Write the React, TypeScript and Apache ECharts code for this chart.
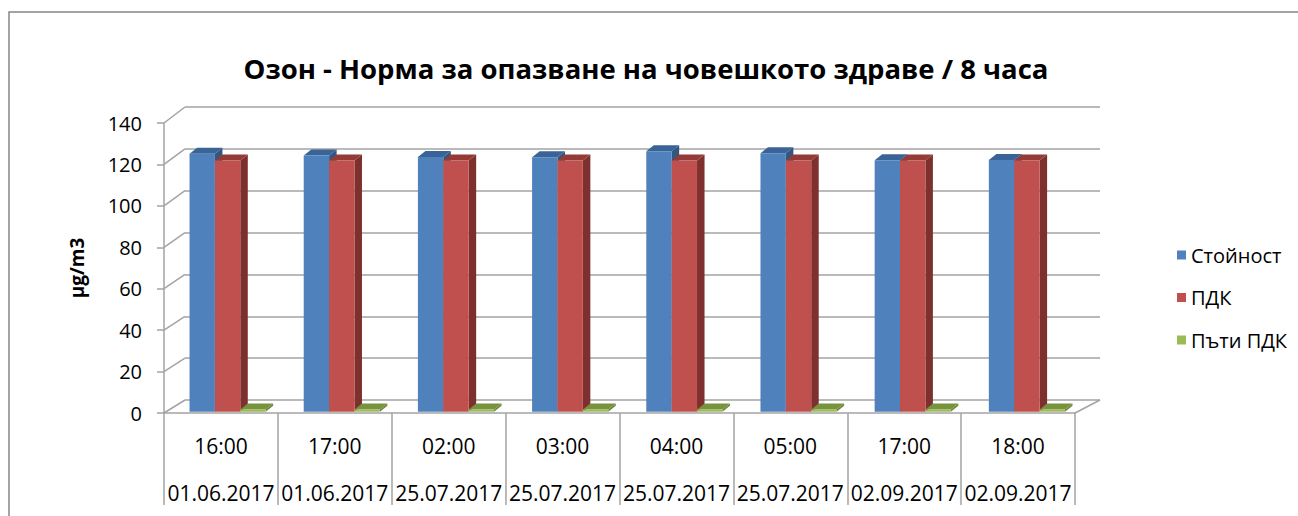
import React, { useEffect, useRef } from "react";
import * as echarts from "echarts";

const times = ["16:00", "17:00", "02:00", "03:00", "04:00", "05:00", "17:00", "18:00"];
const dates = ["01.06.2017", "01.06.2017", "25.07.2017", "25.07.2017", "25.07.2017", "25.07.2017", "02.09.2017", "02.09.2017"];
const seriesNames = ["Стойност", "ПДК", "Пъти ПДК"];
const valueSeries = [123.3, 122.4, 121.7, 121.6, 124.4, 123.5, 120.2, 120.3];
const pdkSeries = [120, 120, 120, 120, 120, 120, 120, 120];
const timesPdkSeries = [1.03, 1.02, 1.01, 1.01, 1.04, 1.03, 1.0, 1.0];
const yTicks = [0, 20, 40, 60, 80, 100, 120, 140];
const titleText = "Озон - Норма за опазване на човешкото здраве / 8 часа";
const yName = "µg/m3";

const FONT = "'Open Sans', 'Noto Sans', sans-serif";
const GRID_LINE = "#a3a3a3";
const DX = 7.5;
const DY = -6;

const palettes = [
  { front: "#4F81BD", side: "#34567f", top: "#3A6397" },
  { front: "#C0504D", side: "#7D302E", top: "#943A37" },
  { front: "#9BBB59", side: "#6d853c", top: "#77933C" },
];

function barRenderer(idx: number) {
  const p = palettes[idx];
  return (params: any, api: any) => {
    const cat = api.value(0);
    const v = api.value(1);
    const base = api.coord([cat, 0]);
    const top = api.coord([cat, v]);
    const band = api.size([1, 0])[0];
    const w = band / 4.5;
    const x0 = base[0] - 1.5 * w + idx * w;
    const x1 = x0 + w;
    const yb = base[1];
    const yt = top[1];
    return {
      type: "group",
      children: [
        {
          type: "polygon",
          shape: { points: [[x1, yb], [x1 + DX, yb + DY], [x1 + DX, yt + DY], [x1, yt]] },
          style: { fill: p.side },
        },
        {
          type: "polygon",
          shape: { points: [[x0, yt], [x1, yt], [x1 + DX, yt + DY], [x0 + DX, yt + DY]] },
          style: { fill: p.top },
        },
        {
          type: "rect",
          shape: { x: x0, y: yt, width: w, height: Math.max(yb - yt, 0.5) },
          style: { fill: p.front },
        },
      ],
    };
  };
}

export default function App() {
  const ref = useRef<HTMLDivElement>(null);
  useEffect(() => {
    document.body.style.margin = "0";
    if (!ref.current) return;
    const chart = echarts.init(ref.current, undefined, { renderer: "svg" });
    const cats = times.map((t, i) => t + "\n" + dates[i]);
    const allSeries = [valueSeries, pdkSeries, timesPdkSeries];

    chart.setOption({
      animation: false,
      backgroundColor: "#ffffff",
      grid: [
        { left: 164, right: 223, top: 123, bottom: 103 },
        { left: 170.5, right: 214, top: 118.7, bottom: 104.3 },
        { left: 185, right: 198, top: 107, bottom: 116 },
      ],
      legend: {
        orient: "vertical",
        left: 1172,
        top: 240,
        itemWidth: 9,
        itemHeight: 9,
        itemGap: 22.5,
        icon: "rect",
        data: seriesNames,
        selectedMode: false,
        textStyle: { fontFamily: FONT, fontSize: 20, color: "#000", lineHeight: 20 },
      },
      xAxis: [
        {
          gridIndex: 0,
          type: "category",
          data: cats,
          axisLine: { show: true, lineStyle: { color: GRID_LINE, width: 1.5 } },
          axisTick: { show: true, interval: 0, length: 92, lineStyle: { color: GRID_LINE, width: 1.5 } },
          axisLabel: {
            interval: 0,
            margin: 9,
            hideOverlap: false,
            formatter: (val: string) => {
              const [t, d] = val.split("\n");
              return "{t|" + t + "}\n{d|" + d + "}";
            },
            rich: {
              t: { fontFamily: FONT, fontSize: 21, lineHeight: 47, color: "#000" },
              d: { fontFamily: FONT, fontSize: 21, lineHeight: 47, color: "#000" },
            },
          },
          splitLine: { show: false },
        },
        { gridIndex: 1, type: "category", data: cats, show: false },
        { gridIndex: 2, type: "category", data: cats, show: false },
      ],
      yAxis: [
        {
          gridIndex: 0,
          type: "value",
          min: 0,
          max: 140,
          interval: 20,
          name: yName,
          nameLocation: "middle",
          nameRotate: 90,
          nameGap: 78,
          nameTextStyle: { fontFamily: FONT, fontSize: 19, fontWeight: "bold", color: "#000" },
          axisLine: { show: true, lineStyle: { color: GRID_LINE, width: 1.5 } },
          axisTick: { show: true, length: 7, lineStyle: { color: GRID_LINE, width: 1.5 } },
          axisLabel: { margin: 22, fontFamily: FONT, fontSize: 20, color: "#000" },
          splitLine: { show: false },
        },
        { gridIndex: 1, type: "value", min: 0, max: 140, interval: 20, show: false, splitLine: { show: false } },
        {
          gridIndex: 2,
          type: "value",
          min: 0,
          max: 140,
          interval: 20,
          axisLine: { show: false },
          axisTick: { show: false },
          axisLabel: { show: false },
          splitLine: { show: true, lineStyle: { color: GRID_LINE, width: 1.5 } },
        },
      ],
      series: seriesNames.map((name, idx) => ({
        name,
        type: "custom",
        xAxisIndex: 1,
        yAxisIndex: 1,
        itemStyle: { color: palettes[idx].front },
        renderItem: barRenderer(idx),
        encode: { x: 0, y: 1 },
        data: allSeries[idx].map((v, i) => [i, v]),
        z: 3,
      })),
    });

    // side wall diagonals and floor edge, computed through the axes' scales
    const n = cats.length;
    const fc0 = chart.convertToPixel({ xAxisIndex: 0 } as any, 0) as number;
    const fc1 = chart.convertToPixel({ xAxisIndex: 0 } as any, 1) as number;
    const fBand = fc1 - fc0;
    const fLeft = fc0 - fBand / 2;
    const fRight = (chart.convertToPixel({ xAxisIndex: 0 } as any, n - 1) as number) + fBand / 2;
    const bc0 = chart.convertToPixel({ xAxisIndex: 2 } as any, 0) as number;
    const bc1 = chart.convertToPixel({ xAxisIndex: 2 } as any, 1) as number;
    const bBand = bc1 - bc0;
    const bLeft = bc0 - bBand / 2;
    const bRight = (chart.convertToPixel({ xAxisIndex: 2 } as any, n - 1) as number) + bBand / 2;

    const lineStyle = { stroke: GRID_LINE, lineWidth: 1.5 };
    const graphics: any[] = [
      {
        type: "rect",
        z: -10,
        shape: { x: 9, y: 12, width: 1320, height: 540 },
        style: { fill: "none", stroke: "#868686", lineWidth: 1.5 },
        silent: true,
      },
      {
        type: "text",
        x: 646,
        y: 68,
        style: {
          text: titleText,
          textAlign: "center",
          textVerticalAlign: "middle",
          fontFamily: FONT,
          fontSize: 27.5,
          fontWeight: "bold",
          fill: "#000",
        },
      },
    ];
    yTicks.forEach((v) => {
      const fy = chart.convertToPixel({ yAxisIndex: 0 } as any, v) as number;
      const by = chart.convertToPixel({ yAxisIndex: 2 } as any, v) as number;
      graphics.push({ type: "line", silent: true, shape: { x1: fLeft, y1: fy, x2: bLeft, y2: by }, style: lineStyle });
    });
    const fy0 = chart.convertToPixel({ yAxisIndex: 0 } as any, 0) as number;
    const by0 = chart.convertToPixel({ yAxisIndex: 2 } as any, 0) as number;
    graphics.push({ type: "line", silent: true, shape: { x1: fRight, y1: fy0, x2: bRight, y2: by0 }, style: lineStyle });
    chart.setOption({ graphic: graphics });

    return () => chart.dispose();
  }, []);
  return <div ref={ref} style={{ width: 1298, height: 516 }} />;
}
